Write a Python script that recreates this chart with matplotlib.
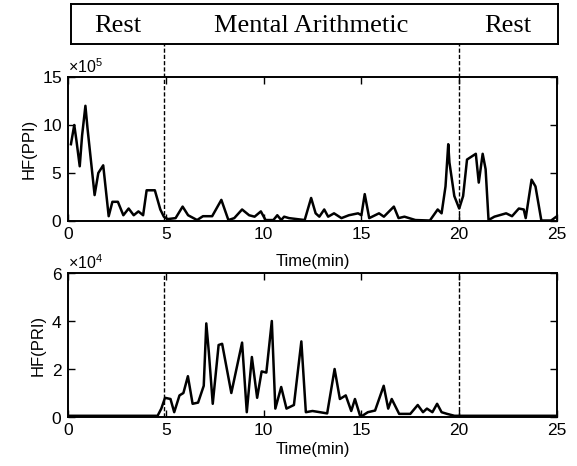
import numpy as np
import matplotlib
matplotlib.use("Agg")
import matplotlib.pyplot as plt
from matplotlib.transforms import blended_transform_factory

# ---------------- data ----------------
phase_names = ["Rest", "Mental Arithmetic", "Rest"]
phase_bounds = [0, 4.9, 20.0, 25]

x_ticks = [0, 5, 10, 15, 20, 25]
ppi_yticks = [0, 5, 10, 15]      # x 10^5
pri_yticks = [0, 2, 4, 6]        # x 10^4
ppi_exp = 5
pri_exp = 4

t_ppi = [0.15, 0.32, 0.43, 0.6, 0.72, 0.89, 1.0, 1.36, 1.55, 1.8, 2.08, 2.27, 2.55,
         2.83, 3.1, 3.36, 3.6, 3.84, 4.02, 4.44, 4.72, 4.9, 5.1, 5.5, 5.86, 6.14,
         6.6, 6.9, 7.37, 7.84, 8.2, 8.5, 8.9, 9.26, 9.54, 9.86, 10.1, 10.5, 10.7,
         10.9, 11.05, 11.3, 11.7, 12.1, 12.43, 12.66, 12.85, 13.1, 13.3, 13.6,
         13.98, 14.36, 14.83, 15.0, 15.17, 15.4, 15.9, 16.15, 16.66, 16.9, 17.2,
         17.76, 18.5, 18.9, 19.1, 19.3, 19.44, 19.5, 19.75, 20.0, 20.2, 20.4, 20.7,
         20.85, 21.0, 21.2, 21.35, 21.5, 21.8, 22.4, 22.7, 23.05, 23.3, 23.4, 23.7,
         23.9, 24.2, 24.7, 25.0]
hf_ppi = [8.0, 10.0, 8.4, 5.7, 8.9, 12.0, 9.6, 2.7, 5.0, 5.8, 0.5, 2.0, 2.0,
          0.6, 1.3, 0.6, 1.0, 0.6, 3.2, 3.2, 1.2, 0.45, 0.2, 0.3, 1.5, 0.6,
          0.1, 0.5, 0.5, 2.2, 0.1, 0.3, 1.2, 0.6, 0.45, 1.0, 0.1, 0.1, 0.6,
          0.1, 0.45, 0.3, 0.2, 0.1, 2.4, 0.8, 0.45, 1.2, 0.45, 0.8,
          0.3, 0.6, 0.8, 0.6, 2.8, 0.3, 0.8, 0.45, 1.5, 0.3, 0.45,
          0.1, 0.05, 1.2, 0.8, 3.6, 8.0, 6.1, 2.6, 1.3, 2.6, 6.4, 6.8,
          7.0, 4.0, 7.0, 5.4, 0.1, 0.45, 0.8, 0.5, 1.3, 1.2, 0.3, 4.3,
          3.6, 0.05, 0.05, 0.5]

t_pri = [0.0, 4.58, 4.77, 4.96, 5.24, 5.43, 5.7, 5.9, 6.13, 6.37, 6.65, 6.94, 7.07,
         7.2, 7.4, 7.7, 7.88, 8.35, 8.9, 9.14, 9.4, 9.67, 9.9, 10.14, 10.42, 10.6,
         10.9, 11.17, 11.55, 11.93, 12.16, 12.5, 12.88, 13.25, 13.63, 13.9, 14.2,
         14.48, 14.67, 14.95, 15.33, 15.7, 16.14, 16.37, 16.55, 16.93, 17.5, 17.88,
         18.15, 18.35, 18.63, 18.87, 19.1, 19.38, 19.76, 25.0]
hf_pri = [0.05, 0.05, 0.35, 0.8, 0.75, 0.2, 0.9, 1.0, 1.7, 0.55, 0.6, 1.3, 3.9,
          2.7, 0.55, 3.0, 3.05, 1.0, 3.1, 0.2, 2.5, 0.8, 1.9, 1.85, 4.0, 0.35,
          1.25, 0.35, 0.5, 3.15, 0.2, 0.25, 0.2, 0.15, 2.0, 0.75, 0.9,
          0.25, 0.75, 0.0, 0.2, 0.27, 1.3, 0.35, 0.75, 0.13, 0.13, 0.5,
          0.2, 0.35, 0.2, 0.55, 0.2, 0.13, 0.05, 0.05]

# ---------------- figure ----------------
W, H = 577, 466
fig = plt.figure(figsize=(W / 100, H / 100), dpi=100)
plt.rcParams['font.family'] = ['Liberation Sans', 'DejaVu Sans']
plt.rcParams['mathtext.fontset'] = 'custom'
plt.rcParams['mathtext.rm'] = 'Liberation Sans'

def fx(px):
    return px / W

def fy(py):
    return 1 - py / H

axL, axR = 68, 557
ax1 = fig.add_axes([fx(axL), fy(221), fx(axR - axL), (221 - 77) / H])
ax2 = fig.add_axes([fx(axL), fy(417), fx(axR - axL), (417 - 273) / H])
axh = fig.add_axes([fx(71), fy(44), fx(558 - 71), (44 - 4) / H])

tick_fs = 12.5

def style(ax, yticks, exp, ylabel, xlabelpad):
    scale = 10.0 ** exp
    ax.set_xlim(0, 25)
    ax.set_ylim(0, yticks[-1] * scale)
    ax.set_xticks(x_ticks)
    ax.set_yticks([v * scale for v in yticks])
    ax.ticklabel_format(axis='y', style='sci', scilimits=(exp, exp), useMathText=True)
    ax.yaxis.get_offset_text().set_fontsize(11.5)
    ax.tick_params(direction='in', top=True, right=True, length=5, width=1.0,
                   labelsize=tick_fs, pad=4)
    for s in ax.spines.values():
        s.set_linewidth(1.4)
    ax.set_xlabel("Time(min)", fontsize=12, labelpad=xlabelpad)
    ax.set_ylabel(ylabel, fontsize=12, labelpad=4)

ax1.plot(t_ppi, np.array(hf_ppi) * 10.0 ** ppi_exp, color='black', lw=1.8)
style(ax1, ppi_yticks, ppi_exp, "HF(PPI)", 9)
ax2.plot(t_pri, np.array(hf_pri) * 10.0 ** pri_exp, color='black', lw=1.8)
style(ax2, pri_yticks, pri_exp, "HF(PRI)", 3)

# dashed phase boundaries
tr1 = blended_transform_factory(ax1.transData, fig.transFigure)
for b in phase_bounds[1:-1]:
    ax1.plot([b, b], [fy(221), fy(4)], transform=tr1, color='black', lw=1.0,
             ls=(0, (3, 1.5)), clip_on=False, zorder=5)
    ax2.axvline(b, color='black', lw=1.0, ls=(0, (3, 1.5)))

# header box
axh.set_xticks([])
axh.set_yticks([])
for s in axh.spines.values():
    s.set_linewidth(1.4)
axh.set_ylim(0, 1)
hx0 = (71 - axL) / (axR - axL) * 25
hx1 = (558 - axL) / (axR - axL) * 25
axh.set_xlim(hx0, hx1)
for i, name in enumerate(phase_names):
    lo = max(phase_bounds[i], hx0)
    hi = min(phase_bounds[i + 1], hx1)
    axh.text((lo + hi) / 2, 0.45, name, ha='center', va='center',
             fontsize=19, family=['Liberation Serif', 'DejaVu Serif'])

fig.savefig("out.png", dpi=100)
